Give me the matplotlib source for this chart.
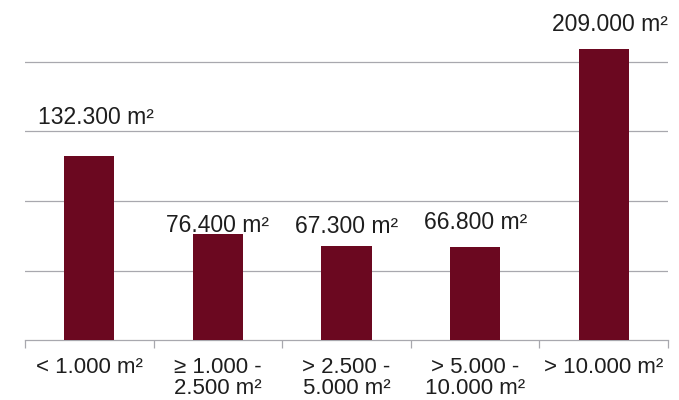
import numpy as np
import matplotlib
matplotlib.use("Agg")
import matplotlib.pyplot as plt

plt.rcParams["font.family"] = ["Liberation Sans", "DejaVu Sans"]

# Flächenklassen und Werte
categories = ["< 1.000 m²", "≥ 1.000 -\n2.500 m²", "> 2.500 -\n5.000 m²",
              "> 5.000 -\n10.000 m²", "> 10.000 m²"]
values = [132300, 76400, 67300, 66800, 209000]
value_labels = ["132.300 m²", "76.400 m²", "67.300 m²", "66.800 m²", "209.000 m²"]

# label offsets above bar top (pixels), as placed in the original
label_dx = [7, 0, 0, 1, 6]
label_dy = [32, 2, 13, 18, 18]

bar_color = "#6B0820"
grid_color = "#A8A8AE"
text_color = "#1E1E1E"

fig = plt.figure(figsize=(6.79, 4.0), dpi=100)
ax = fig.add_axes([25 / 679, 60 / 400, 643 / 679, 340 / 400])

x = np.arange(len(values))
ax.bar(x, values, width=0.39, color=bar_color, zorder=3)

ax.set_xlim(-0.5, len(values) - 0.5)
ax.set_ylim(0, 340 / 69.5 * 50000)
ax.set_yticks([50000, 100000, 150000, 200000])
ax.yaxis.grid(True, color=grid_color, linewidth=0.9, zorder=0)
ax.tick_params(axis="y", length=0, labelleft=False)

for s in ["top", "right", "left"]:
    ax.spines[s].set_visible(False)
ax.spines["bottom"].set_color(grid_color)
ax.spines["bottom"].set_linewidth(0.9)

ax.set_xticks(x)
ax.set_xticklabels(categories, fontsize=16, color=text_color, linespacing=1.0)
ax.tick_params(axis="x", which="major", length=0, pad=12)
ax.set_xticks(np.arange(len(values) + 1) - 0.5, minor=True)
ax.tick_params(axis="x", which="minor", length=6, width=0.9, color=grid_color,
               direction="out")

for i, (v, lab) in enumerate(zip(values, value_labels)):
    ax.annotate(lab, (i, v), xytext=(label_dx[i] * 0.72, label_dy[i] * 0.72),
                textcoords="offset points", ha="center", va="baseline",
                fontsize=16.5, color=text_color, annotation_clip=False)

fig.savefig("out.png", dpi=100)
